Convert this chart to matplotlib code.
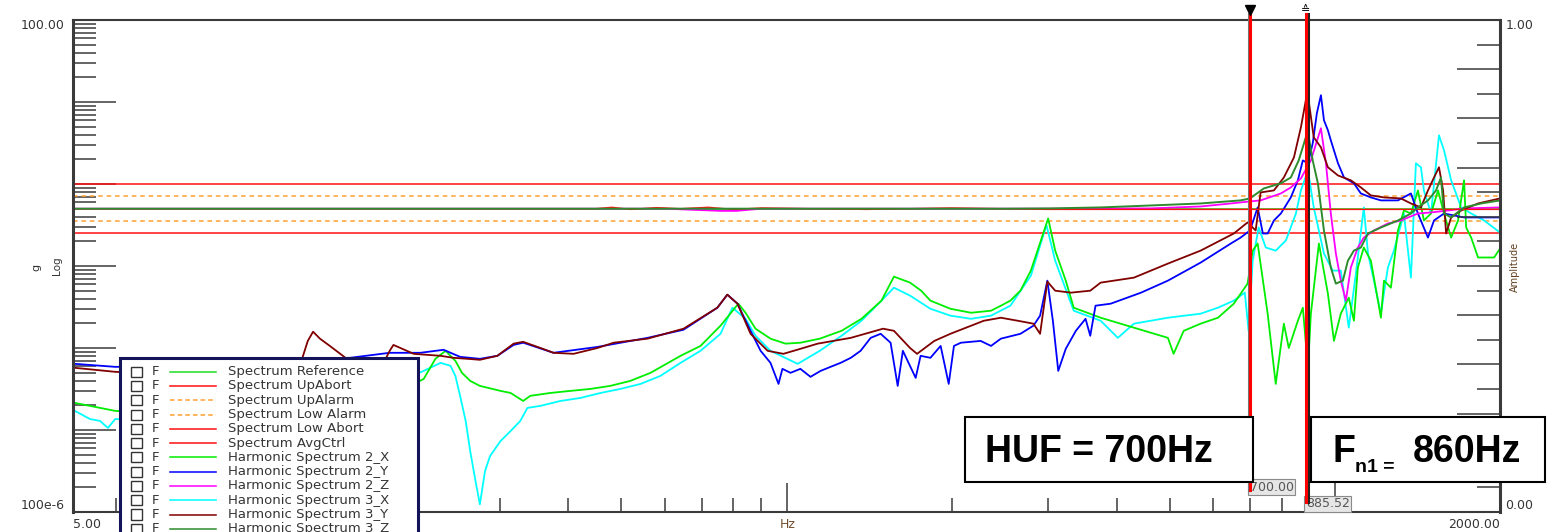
import matplotlib
matplotlib.use('Agg')
import matplotlib.pyplot as plt
import matplotlib.patheffects as pe
from matplotlib.patches import Rectangle
from matplotlib.lines import Line2D
from matplotlib.ticker import LogLocator, MultipleLocator, NullFormatter
from matplotlib.transforms import blended_transform_factory

# ---------------- data (Hz, g) ----------------
ref_g = 0.5
up_abort_g = 1.0
up_alarm_g = 0.707
low_alarm_g = 0.354
low_abort_g = 0.25

cursor_a = 700.00
cursor_b = 885.52

# Harmonic Spectrum 3_Y (maroon)
f_3y = [5.04, 5.97, 6.91, 8.53, 10.5, 12.4, 13.1, 13.4, 13.7, 14.1,
        14.7, 15.7, 16.7, 18.5, 18.9, 19.2, 20.9, 23.4, 24.7, 26.2,
        27.6, 29.7, 31.8, 33.1, 35.6, 37.6, 40.9, 45.2, 48.4, 55.8,
        64.9, 74.8, 78.0, 81.4, 86.0, 92.4, 98.7, 106, 114, 131,
        150, 157, 168, 173, 186, 199, 229, 246, 264, 282,
        290, 299, 309, 330, 358, 374, 430, 496, 569, 654,
        693, 717, 732, 774, 807, 842, 867, 885, 897, 915,
        943, 971, 1013, 1069, 1115, 1163, 1229, 1319, 1376, 1435,
        1478, 1516, 1548, 1575, 1595, 1629, 1699, 1824, 2000]
g_3y = [0.00573, 0.00512, 0.00498, 0.00526, 0.00557, 0.00659, 0.00759, 0.0122, 0.0158, 0.0130,
        0.0106, 0.00759, 0.00659, 0.00698, 0.00924, 0.0109, 0.00849, 0.00803, 0.00759, 0.00738,
        0.00718, 0.00803, 0.0113, 0.0119, 0.0100, 0.00874, 0.00849, 0.0100, 0.0116, 0.0130,
        0.0172, 0.0310, 0.0447, 0.0347, 0.0149, 0.00924, 0.00849, 0.00977, 0.0113, 0.0133,
        0.0172, 0.0162, 0.0100, 0.00849, 0.0122, 0.0149, 0.0215, 0.0234, 0.0215, 0.0198,
        0.0149, 0.0645, 0.0500, 0.0473, 0.0500, 0.0627, 0.0721, 0.107, 0.154, 0.249,
        0.340, 0.271, 0.789, 0.835, 1.20, 2.11, 4.92, 10.5, 9.66, 3.71,
        2.80, 1.60, 1.27, 1.11, 0.908, 0.726, 0.686, 0.667, 0.579, 0.518,
        0.835, 1.20, 1.60, 0.835, 0.249, 0.391, 0.475, 0.579, 0.667]

# Harmonic Spectrum 2_Y (blue)
f_2y = [5.04, 5.97, 8.53, 13.0, 16.0, 18.9, 21.5, 23.7, 25.4, 27.6,
        29.7, 31.8, 33.1, 37.6, 45.2, 55.8, 64.9, 74.8, 78.0, 81.4,
        86.0, 89.7, 93.5, 96.7, 98.3, 101.7, 106, 110.6, 115.4, 120.3,
        125.5, 131, 136.5, 142.4, 148.5, 154.8, 159.5, 163, 172, 175.6,
        183, 191, 197.6, 202, 208, 226, 236, 246, 267, 282,
        290, 299, 306, 313, 323, 337, 351, 358, 366, 390,
        443, 496, 569, 646, 673, 700, 723, 739, 754, 774,
        797, 831, 856, 874, 893, 911, 927, 943, 955, 971,
        983, 1013, 1039, 1083, 1115, 1163, 1213, 1303, 1376, 1417,
        1478, 1516, 1581, 1720, 2000]
g_2y = [0.00641, 0.00589, 0.00606, 0.00738, 0.00759, 0.00874, 0.00874, 0.00951, 0.00780, 0.00738,
        0.00803, 0.0109, 0.0116, 0.00874, 0.0103, 0.0133, 0.0167, 0.0310, 0.0447, 0.0347,
        0.0162, 0.00924, 0.00659, 0.00365, 0.00557, 0.00498, 0.00557, 0.00445, 0.00526, 0.00589,
        0.00659, 0.00759, 0.00924, 0.0133, 0.0149, 0.0116, 0.00345, 0.00924, 0.00432, 0.00803,
        0.00759, 0.0106, 0.00365, 0.0106, 0.0116, 0.0122, 0.0106, 0.0130, 0.0149, 0.0187,
        0.0248, 0.0663, 0.0215, 0.00526, 0.00977, 0.0162, 0.0227, 0.0141, 0.0328, 0.0347,
        0.0473, 0.0663, 0.110, 0.188, 0.222, 0.271, 0.518, 0.249, 0.249, 0.359,
        0.437, 0.686, 1.11, 1.94, 1.79, 3.13, 7.29, 12.1, 6.0, 4.52,
        3.41, 1.79, 1.20, 1.02, 0.767, 0.686, 0.631, 0.631, 0.767, 0.437,
        0.222, 0.359, 0.437, 0.391, 0.391]

# Harmonic Spectrum 2_X (light green)
f_2x = [5.04, 5.97, 8.53, 13.0, 19.8, 21.8, 22.9, 23.9, 24.9, 25.6,
        26.5, 27.6, 30.1, 31.4, 33.1, 34.1, 37.1, 40.4, 43.9, 47.7,
        51.9, 56.5, 64.1, 69.7, 75.8, 81.7, 84.2, 87.8, 93.5, 99.6,
        106, 115, 126, 137, 149, 157, 168, 176, 183, 199,
        217, 236, 246, 256, 267, 279, 291, 300, 309, 323,
        334, 374, 430, 496, 508, 530, 569, 612, 654, 693,
        708, 723, 754, 780, 807, 824, 856, 874, 893, 904,
        935, 971, 996, 1025, 1060, 1083, 1101, 1129, 1163, 1198,
        1213, 1229, 1265, 1303, 1336, 1376, 1417, 1453, 1497, 1542,
        1581, 1629, 1677, 1720, 1735, 1772, 1824, 1951, 2000]
g_2x = [0.00214, 0.00171, 0.00148, 0.00171, 0.00300, 0.00420, 0.00738, 0.00924, 0.00698, 0.00498,
        0.00397, 0.00345, 0.00300, 0.00283, 0.00226, 0.00261, 0.00283, 0.00300, 0.00317, 0.00345,
        0.00397, 0.00498, 0.00803, 0.0106, 0.0187, 0.0347, 0.0269, 0.0172, 0.0130, 0.0113,
        0.0116, 0.0130, 0.0162, 0.0227, 0.0378, 0.0742, 0.0627, 0.0500, 0.0378, 0.0301,
        0.0269, 0.0285, 0.0328, 0.0378, 0.0500, 0.0879, 0.205, 0.380, 0.154, 0.0663,
        0.0310, 0.0234, 0.0177, 0.0133, 0.00849, 0.0162, 0.0198, 0.0234, 0.0347, 0.0610,
        0.154, 0.188, 0.0262, 0.00365, 0.0198, 0.0100, 0.0215, 0.0310, 0.00573, 0.0262,
        0.188, 0.0460, 0.0122, 0.0262, 0.0411, 0.0215, 0.0955, 0.168, 0.116, 0.0378,
        0.0234, 0.0663, 0.0544, 0.271, 0.475, 0.437, 0.835, 0.359, 0.437, 0.835,
        0.437, 0.222, 0.359, 1.11, 0.295, 0.222, 0.127, 0.127, 0.163]

# Harmonic Spectrum 3_X (cyan)
f_3x = [5.04, 5.37, 5.60, 5.79, 5.97, 8.53, 13.0, 19.8, 21.8, 23.4,
        24.4, 24.9, 25.4, 26.0, 26.5, 27.1, 27.6, 28.2, 28.8, 30.1,
        31.4, 32.7, 33.7, 35.6, 38.7, 42.1, 45.8, 49.8, 54.2, 58.9,
        64.1, 69.7, 75.8, 79.7, 84.2, 87.8, 93.5, 104.8, 115, 126,
        137, 149, 157, 168, 183, 199, 217, 236, 256, 279,
        294.6, 298, 309, 334, 374, 402, 430, 496, 569, 612,
        654, 685, 696, 708, 726, 748, 780, 814, 849, 867,
        893, 915, 955, 991, 1025, 1060, 1092, 1129, 1149, 1178,
        1213, 1249, 1281, 1336, 1376, 1405, 1435, 1453, 1497, 1548,
        1581, 1629, 1699, 1772, 1871, 2000]
g_3x = [0.00171, 0.00136, 0.00129, 0.00106, 0.00136, 0.00129, 0.00197, 0.00397, 0.00526, 0.00659,
        0.00606, 0.00457, 0.00261, 0.00129, 0.000553, 0.000238, 0.000124, 0.000315, 0.000481, 0.000734,
        0.000972, 0.00129, 0.00186, 0.00197, 0.00226, 0.00246, 0.00283, 0.00317, 0.00365, 0.00457,
        0.00659, 0.00924, 0.0149, 0.0310, 0.0227, 0.0141, 0.00924, 0.00641, 0.00924, 0.0141,
        0.0215, 0.0378, 0.0544, 0.0435, 0.0301, 0.0248, 0.0227, 0.0248, 0.0328, 0.0763,
        0.249, 0.312, 0.116, 0.0285, 0.0215, 0.0133, 0.0198, 0.0234, 0.0262, 0.0310,
        0.0378, 0.0473, 0.0162, 0.116, 0.295, 0.168, 0.154, 0.205, 0.437, 0.835,
        1.47, 0.518, 0.142, 0.0879, 0.0879, 0.0177, 0.0807, 0.518, 0.142, 0.0663,
        0.0262, 0.0955, 0.154, 0.437, 0.0721, 1.79, 1.60, 0.835, 0.437, 3.93,
        2.58, 1.11, 0.518, 0.437, 0.359, 0.256]

# Harmonic Spectrum 2_Z (magenta)
f_2z = [5, 60, 76, 81, 90, 300, 461, 569, 646, 700,
        732, 797, 831, 867, 904, 943, 963, 983, 1004, 1025,
        1047, 1069, 1101, 1129, 1178, 1249, 1319, 1417, 1497, 1608,
        1720, 2000]
g_2z = [0.5, 0.5, 0.47, 0.47, 0.5, 0.5, 0.504, 0.532, 0.579, 0.613,
        0.631, 0.767, 0.908, 1.17, 1.94, 4.79, 1.79, 0.437, 0.142, 0.0663,
        0.0378, 0.0955, 0.168, 0.222, 0.271, 0.330, 0.359, 0.437, 0.450, 0.475,
        0.504, 0.518]

# Harmonic Spectrum 3_Z (dark green)
f_3z = [5, 246, 303, 374, 461, 569, 673, 700, 742, 797,
        831, 859, 885, 893, 911, 931, 955, 983, 1004, 1034,
        1056, 1083, 1115, 1149, 1213, 1303, 1376, 1417, 1478, 1529,
        1561, 1581, 1629, 1720, 1848, 2000]
g_3z = [0.5, 0.5, 0.504, 0.518, 0.547, 0.579, 0.631, 0.667, 0.883, 1.02,
        1.20, 1.94, 3.71, 4.27, 1.94, 1.02, 0.271, 0.0955, 0.0610, 0.0663,
        0.116, 0.154, 0.168, 0.249, 0.295, 0.359, 0.437, 0.518, 0.631, 0.835,
        1.20, 0.437, 0.391, 0.518, 0.579, 0.631]

# Spectrum AvgCtrl (red)
f_avg = [5, 45, 48, 52, 58, 64, 72, 80, 90, 110, 140, 200, 300, 500, 700, 1000, 2000]
g_avg = [0.5, 0.5, 0.52, 0.49, 0.515, 0.5, 0.52, 0.49, 0.51, 0.5, 0.49, 0.51, 0.49, 0.49, 0.49, 0.49, 0.49]

legend_labels = ['Spectrum Reference', 'Spectrum UpAbort', 'Spectrum UpAlarm',
                 'Spectrum Low Alarm', 'Spectrum Low Abort', 'Spectrum AvgCtrl',
                 'Harmonic Spectrum 2_X', 'Harmonic Spectrum 2_Y', 'Harmonic Spectrum 2_Z',
                 'Harmonic Spectrum 3_X', 'Harmonic Spectrum 3_Y', 'Harmonic Spectrum 3_Z']

# ---------------- styles ----------------
C_REF = '#22dd22'
C_RED = '#ff1010'
C_ORANGE = '#ffa030'
C_2X = '#00ee00'
C_2Y = '#0000ff'
C_2Z = '#ff00ff'
C_3X = '#00ffff'
C_3Y = '#800000'
C_3Z = '#2e8b2e'
legend_colors = [C_REF, C_RED, C_ORANGE, C_ORANGE, C_RED, C_RED, C_2X, C_2Y, C_2Z, C_3X, C_3Y, C_3Z]
legend_styles = ['-', '-', '--', '--', '-', '-', '-', '-', '-', '-', '-', '-']
TXT = '#353535'
AX = '#3a3a3a'

fig = plt.figure(figsize=(15.53, 5.32), dpi=100)
ax = fig.add_axes([73 / 1553, 20 / 532, 1427 / 1553, 492 / 532])
ax.set_xscale('log')
ax.set_yscale('log')

lw = 1.3
# limits and reference
ax.axhline(ref_g, color=C_REF, lw=1.2, zorder=2.0)
ax.axhline(up_abort_g, color=C_RED, lw=1.1, zorder=2.0)
ax.axhline(low_abort_g, color=C_RED, lw=1.1, zorder=2.0)
ax.axhline(up_alarm_g, color=C_ORANGE, lw=1.1, dashes=(3, 2.5), zorder=2.0)
ax.axhline(low_alarm_g, color=C_ORANGE, lw=1.1, dashes=(3, 2.5), zorder=2.0)

ax.plot(f_3x, g_3x, color=C_3X, lw=lw, zorder=2.05)
ax.plot(f_2x, g_2x, color=C_2X, lw=lw, zorder=2.1)
ax.plot(f_2y, g_2y, color=C_2Y, lw=lw, zorder=2.15)
ax.plot(f_2z, g_2z, color=C_2Z, lw=lw, zorder=2.2)
ax.plot(f_3y, g_3y, color=C_3Y, lw=lw, zorder=2.25)
ax.plot(f_avg, g_avg, color=C_RED, lw=1.0, zorder=2.3)
ax.plot(f_3z, g_3z, color=C_3Z, lw=1.4, zorder=2.35)

ax.set_xlim(5, 2000)
ax.set_ylim(1e-4, 100)

# axes look
for s in ['top', 'bottom']:
    ax.spines[s].set_color(AX)
    ax.spines[s].set_linewidth(1.5)
ax.spines['left'].set_color(AX)
ax.spines['left'].set_linewidth(2.2)
ax.spines['right'].set_visible(False)
ax.yaxis.set_major_locator(LogLocator(base=10, numticks=12))
ax.yaxis.set_minor_locator(LogLocator(base=10, subs=range(2, 10), numticks=12))
ax.xaxis.set_major_locator(LogLocator(base=10, numticks=12))
ax.xaxis.set_minor_locator(LogLocator(base=10, subs=range(2, 10), numticks=12))
for a in (ax.xaxis, ax.yaxis):
    a.set_major_formatter(NullFormatter())
    a.set_minor_formatter(NullFormatter())
ax.tick_params(axis='y', which='major', direction='in', length=31, width=1.1, color=AX)
ax.tick_params(axis='y', which='minor', direction='in', length=16.5, width=1.1, color=AX)
ax.tick_params(axis='x', which='major', direction='in', length=21, width=1.1, color=AX)
ax.tick_params(axis='x', which='minor', direction='in', length=10, width=1.1, color=AX)

ax2 = ax.twinx()
ax2.set_ylim(0, 1)
ax2.yaxis.set_major_locator(MultipleLocator(0.1))
ax2.yaxis.set_minor_locator(MultipleLocator(0.05))
ax2.yaxis.set_major_formatter(NullFormatter())
ax2.tick_params(axis='y', which='major', direction='in', length=31, width=1.1, color=AX)
ax2.tick_params(axis='y', which='minor', direction='in', length=16.5, width=1.1, color=AX)
for s in ['top', 'bottom', 'left']:
    ax2.spines[s].set_visible(False)
ax2.spines['right'].set_color(AX)
ax2.spines['right'].set_linewidth(2.2)

# cursors
blend = blended_transform_factory(ax.transData, ax.transAxes)
ax.axvline(cursor_a, ymin=0.045, ymax=1.012, color='#ff0000', lw=2.2, clip_on=False, zorder=3,
           path_effects=[pe.SimpleLineShadow(offset=(-1.0, 0), shadow_color='#777777', alpha=1, rho=1),
                         pe.Normal()])
ax.axvline(cursor_b, ymin=0.02, ymax=1.012, color='#ff0000', lw=2.2, clip_on=False, zorder=3,
           path_effects=[pe.SimpleLineShadow(offset=(1.2, 0), shadow_color='#222222', alpha=1, rho=1),
                         pe.Normal()])
ax.plot([cursor_a], [1.02], marker='v', color='k', ms=7, transform=blend, clip_on=False, zorder=4)
ax.text(cursor_b, 1.02, '\u2259', transform=blend, ha='center', va='center', fontsize=8,
        color='k', clip_on=False, zorder=4)
ax.text(cursor_a, 0.050, '%.2f' % cursor_a, transform=blend, ha='left', va='center', fontsize=9,
        color='#555555', zorder=2.9,
        bbox=dict(boxstyle='square,pad=0.12', fc='#e6e6e6', ec='#8a8a8a', lw=0.8))
ax.text(cursor_b, 0.017, '%.2f' % cursor_b, transform=blend, ha='left', va='center', fontsize=9,
        color='#555555', zorder=2.9,
        bbox=dict(boxstyle='square,pad=0.12', fc='#e6e6e6', ec='#8a8a8a', lw=0.8))

# axis texts
tA = ax2.transAxes
ax2.text(-0.0056, 0.988, '100.00', transform=tA, ha='right', va='center', fontsize=9, color=TXT)
ax2.text(-0.0056, 0.014, '100e-6', transform=tA, ha='right', va='center', fontsize=9, color=TXT)
ax2.text(0.0, -0.0244, '5.00', transform=tA, ha='left', va='center', fontsize=9, color=TXT)
ax2.text(1.0, -0.0244, '2000.00', transform=tA, ha='right', va='center', fontsize=9, color=TXT)
ax2.text(0.501, -0.0244, 'Hz', transform=tA, ha='center', va='center', fontsize=9, color='#705030')
ax2.text(1.0042, 0.988, '1.00', transform=tA, ha='left', va='center', fontsize=9, color=TXT)
ax2.text(1.0035, 0.0132, '0.00', transform=tA, ha='left', va='center', fontsize=9, color=TXT)
ax2.text(-0.0259, 0.497, 'g', transform=tA, ha='center', va='center', fontsize=8, rotation=90, color=TXT)
ax2.text(-0.0112, 0.50, 'Log', transform=tA, ha='center', va='center', fontsize=7.5, rotation=90, color=TXT)
ax2.text(1.0105, 0.499, 'Amplitude', transform=tA, ha='center', va='center', fontsize=7, rotation=90,
         color='#604020')

# annotation boxes
ax2.add_patch(Rectangle((0.6251, 0.0611), 0.2018, 0.1324, transform=tA, fc='white', ec='black',
                        lw=1.5, zorder=10, clip_on=False))
ax2.add_patch(Rectangle((0.8675, 0.0611), 0.1640, 0.1324, transform=tA, fc='white', ec='black',
                        lw=1.5, zorder=10, clip_on=False))
big = dict(transform=tA, fontfamily='Liberation Sans', fontweight='bold', color='black',
           va='baseline', ha='left', zorder=11, clip_on=False)
ax2.text(0.6391, 0.1018, 'HUF = 700Hz', fontsize=27, **big)
ax2.text(0.8823, 0.1018, 'F', fontsize=27, **big)
ax2.text(0.8984, 0.0815, 'n1 =', fontsize=14, **big)
ax2.text(0.9390, 0.1018, '860Hz', fontsize=27, **big)

# legend panel (its last row runs off the bottom edge, as in the original)
ax2.add_patch(Rectangle((0.0329, -0.06), 0.2089, 0.3736, transform=tA, fc='white', ec='#14145a',
                        lw=2.2, zorder=10, clip_on=False))
row_step = 14.25 / 491
for i, (lab, col, ls) in enumerate(zip(legend_labels, legend_colors, legend_styles)):
    yc = (512 - 372) / 491 - i * row_step
    ax2.add_patch(Rectangle((0.0406, yc - 0.0102), 0.0077, 0.0204, transform=tA, fc='white',
                            ec='#333333', lw=1.0, zorder=11, clip_on=False))
    ax2.text(0.0554, yc, 'F', transform=tA, ha='left', va='center', fontsize=9.5, color=TXT,
             zorder=11, clip_on=False)
    ax2.add_line(Line2D([0.068, 0.1002], [yc, yc], transform=tA, color=col, lw=1.1,
                        linestyle=ls, dashes=(3, 2) if ls == '--' else (None, None),
                        zorder=11, clip_on=False))
    ax2.text(0.1086, yc, lab, transform=tA, ha='left', va='center', fontsize=9.5, color=TXT,
             zorder=11, clip_on=False)

fig.savefig('out.png', dpi=100, facecolor='white')
